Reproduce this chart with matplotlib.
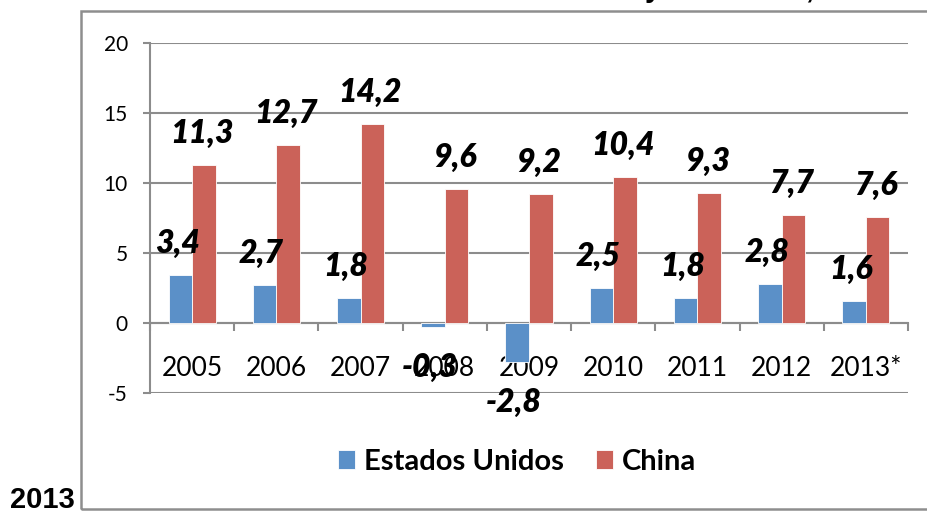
import numpy as np
import matplotlib
matplotlib.use("Agg")
import matplotlib.pyplot as plt
from matplotlib.patches import Rectangle

# PIB growth (%) - Estados Unidos vs China
years = ['2005', '2006', '2007', '2008', '2009', '2010', '2011', '2012', '2013*']
usa = [3.4, 2.7, 1.8, -0.3, -2.8, 2.5, 1.8, 2.8, 1.6]
china = [11.3, 12.7, 14.2, 9.6, 9.2, 10.4, 9.3, 7.7, 7.6]
series_names = ['Estados Unidos', 'China']
yticks = [-5, 0, 5, 10, 15, 20]

blue = '#5B90C8'
red = '#CB6259'
gray = '#8C8C8C'
font = 'Lato'


def fmt(v):
    return ('%.1f' % v).replace('.', ',')


def main():
    fig = plt.figure(figsize=(9.28, 5.12), dpi=100)

    # outer chart frame (cut off on the right)
    fig.patches.append(Rectangle((81 / 928, 3 / 512), 1.0, 498 / 512,
                                 transform=fig.transFigure, fill=False,
                                 edgecolor='#8E8E8E', lw=1.8, clip_on=False))

    ax = fig.add_axes([150 / 928, 119 / 512, 758 / 928, 350 / 512])
    x = np.arange(len(years))
    w = 0.28
    b1 = ax.bar(x - w / 2, usa, w, color=blue, edgecolor='white', lw=0.6,
                label=series_names[0], zorder=3)
    b2 = ax.bar(x + w / 2, china, w, color=red, edgecolor='white', lw=0.6,
                label=series_names[1], zorder=3)

    ax.set_xlim(-0.5, len(years) - 0.5)
    ax.set_ylim(-5, 20)
    ax.set_yticks(yticks)
    ax.set_yticklabels([str(t) for t in yticks], fontsize=15, family=font)
    ax.yaxis.grid(True, color=gray, lw=1.5, zorder=0)
    ax.set_axisbelow(True)

    for s in ['top', 'right']:
        ax.spines[s].set_visible(False)
    ax.spines['left'].set_color(gray)
    ax.spines['left'].set_linewidth(1.5)
    ax.spines['bottom'].set_position(('data', 0))
    ax.spines['bottom'].set_color(gray)
    ax.spines['bottom'].set_linewidth(1.5)

    ax.tick_params(axis='y', length=5, width=1.5, color=gray, pad=11)
    ax.set_xticks(x)
    ax.set_xticklabels(years, fontsize=19, family=font)
    ax.set_xticks(np.arange(len(years) + 1) - 0.5, minor=True)
    ax.tick_params(axis='x', which='major', length=0, pad=24)
    ax.tick_params(axis='x', which='minor', length=6, width=1.5, color=gray)

    # data labels
    for bars, vals, dx in [(b1, usa, -3), (b2, china, -2)]:
        for r, v in zip(bars, vals):
            dy = 22 if v >= 0 else -50
            ax.annotate(fmt(v), (r.get_x() + r.get_width() / 2, v),
                        xytext=(dx, dy), textcoords='offset pixels',
                        ha='center', va='baseline', fontsize=23,
                        family=font, fontweight='heavy', fontstyle='italic',
                        zorder=5)

    leg = fig.legend(handles=[b1, b2], labels=series_names, loc='center',
                     bbox_to_anchor=(517 / 928, 1 - 462 / 512), ncol=2,
                     frameon=False, handlelength=0.6, handleheight=0.65,
                     handletextpad=0.3, columnspacing=1.1,
                     prop={'family': font, 'weight': 'bold', 'size': 21})

    # surrounding document text
    fig.text(10 / 928, 4 / 512, '2013', fontsize=21, fontweight='bold',
             family='Liberation Sans', ha='left', va='baseline')
    fig.text(645 / 928, 1 + 3 / 512, 'y', fontsize=21, fontweight='bold',
             family='Liberation Sans', ha='left', va='baseline')
    fig.text(815 / 928, 1 + 3 / 512, 'China,', fontsize=21, fontweight='bold',
             family='Liberation Sans', ha='right', va='baseline')

    fig.savefig('out.png', dpi=100)


if __name__ == "__main__":
    main()
